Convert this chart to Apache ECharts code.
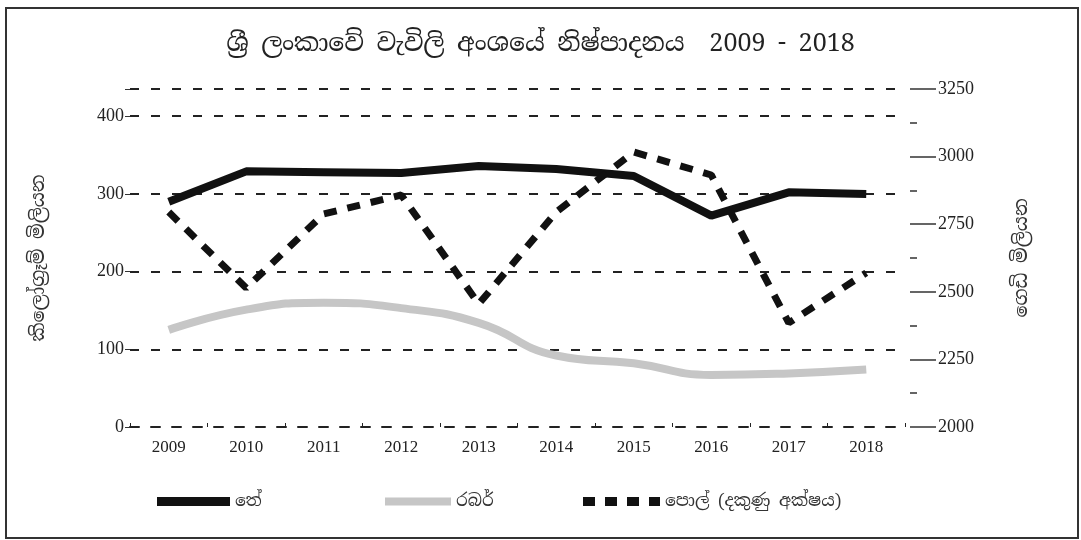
<!DOCTYPE html>
<html>
<head>
<meta charset="utf-8">
<script src="https://cdn.jsdelivr.net/npm/echarts@6/dist/echarts.min.js"></script>
<style>
html,body{margin:0;padding:0;background:#fff;}
#chart{width:1081px;height:540px;}
</style>
</head>
<body>
<div id="chart"></div>
<script>
const titleText = 'ශ්‍රී ලංකාවේ වැවිලි අංශයේ නිෂ්පාදනය  2009 - 2018';
const leftAxisName = 'කිලෝග්‍රෑම් මිලියන';
const rightAxisName = 'ගෙඩි මිලියන';
const years = ['2009','2010','2011','2012','2013','2014','2015','2016','2017','2018'];
const teaName = 'තේ';
const rubberName = 'රබර්';
const coconutName = 'පොල් (දකුණු අක්ෂය)';
const tea = [290, 329, 328, 327, 336, 332, 323, 272, 302, 300];
const rubber = [125, 151, 160, 153, 134, 92, 82, 67, 69, 74];
const coconut = [2795, 2514, 2788, 2858, 2455, 2795, 3017, 2932, 2385, 2570];
const leftTickLabels = [0, 100, 200, 300, 400];

const sinFont = '"Noto Serif Sinhala","Noto Sans Sinhala","Iskoola Pota","Liberation Serif","DejaVu Serif",serif';
const numFont = '"Liberation Serif","DejaVu Serif",serif';

const chart = echarts.init(document.getElementById('chart'));
const dash = [9, 12];
chart.setOption({
  animation: false,
  backgroundColor: '#fff',
  title: {
    text: titleText, left: 'center', top: 27,
    textStyle: {fontFamily: sinFont, fontSize: 25, fontWeight: 'normal', color: '#222'}
  },
  graphic: [{
    type: 'rect', shape: {x: 6, y: 8, width: 1072, height: 530},
    style: {fill: 'none', stroke: '#333', lineWidth: 2}, silent: true
  }],
  legend: [
    {data: [{name: teaName, icon: 'rect'}], left: 152, top: 488, itemWidth: 73, itemHeight: 9,
     textStyle: {fontFamily: sinFont, fontSize: 17, color: '#333'}},
    {data: [{name: rubberName, icon: 'rect'}], left: 380, top: 488, itemWidth: 66, itemHeight: 8,
     textStyle: {fontFamily: sinFont, fontSize: 17, color: '#333'}},
    {data: [{name: coconutName, icon: 'path://M0,0h12v9h-12z M22,0h12v9h-12z M44,0h12v9h-12z M66,0h11v9h-11z'}],
     left: 578, top: 488, itemWidth: 77, itemHeight: 9,
     textStyle: {fontFamily: sinFont, fontSize: 17, color: '#333'}}
  ],
  grid: {left: 130, right: 176, top: 89, bottom: 113},
  xAxis: {
    type: 'category', data: years, boundaryGap: true,
    axisLine: {lineStyle: {color: '#222', width: 2, type: dash}},
    axisTick: {show: true, length: 4, inside: true, lineStyle: {color: '#222'}},
    axisLabel: {fontFamily: numFont, fontSize: 17, color: '#222', margin: 12}
  },
  yAxis: [{
    type: 'value', min: 0, max: 435, interval: 100, position: 'left',
    name: leftAxisName, nameLocation: 'middle', nameRotate: 90, nameGap: 82,
    nameTextStyle: {fontFamily: sinFont, fontSize: 19, color: '#333'},
    axisLine: {show: false},
    axisTick: {show: true, length: 5, lineStyle: {color: '#333'}},
    axisLabel: {fontFamily: numFont, fontSize: 18, color: '#222', margin: 6,
      formatter: v => leftTickLabels.indexOf(v) >= 0 ? String(v) : ''},
    splitLine: {show: true, lineStyle: {color: '#222', width: 2, type: dash}}
  }, {
    type: 'value', min: 2000, max: 3250, interval: 250, position: 'right', offset: 5,
    name: rightAxisName, nameLocation: 'middle', nameRotate: 90, nameGap: 102,
    nameTextStyle: {fontFamily: sinFont, fontSize: 19, color: '#333'},
    axisLine: {show: false},
    axisTick: {show: true, length: 26, lineStyle: {color: '#333', width: 1.5}},
    minorTick: {show: true, splitNumber: 2, length: 7, lineStyle: {color: '#333', width: 1.5}},
    axisLabel: {fontFamily: numFont, fontSize: 18, color: '#222', margin: 28,
      formatter: v => String(v)},
    splitLine: {show: false}
  }],
  series: [{
    name: teaName, type: 'line', yAxisIndex: 0, data: tea, symbol: 'none', z: 4,
    itemStyle: {color: '#111'},
    lineStyle: {color: '#111', width: 8}
  }, {
    name: rubberName, type: 'line', yAxisIndex: 0, data: rubber, symbol: 'none', smooth: 0.5, z: 3,
    itemStyle: {color: '#c6c6c6'},
    lineStyle: {color: '#c6c6c6', width: 8}
  }, {
    name: coconutName, type: 'line', yAxisIndex: 1, data: coconut, symbol: 'none', z: 5,
    itemStyle: {color: '#111'},
    lineStyle: {color: '#111', width: 7, type: [13, 11]}
  }]
});
</script>
</body>
</html>
